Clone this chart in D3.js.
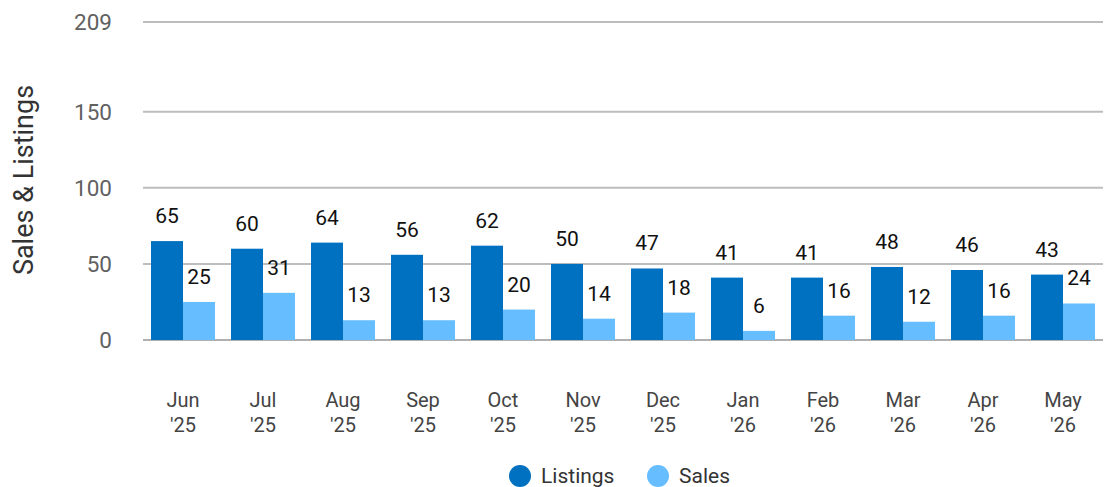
<!DOCTYPE html>
<html>
<head>
<meta charset="utf-8">
<script src="https://cdn.jsdelivr.net/npm/d3@7"></script>
<style>
  body { margin: 0; background: #fff; }
  svg text { font-family: Roboto, sans-serif; }
</style>
</head>
<body>
<div id="graph"></div>
<script>
// The data...
var months   = [ 'Jun', 'Jul', 'Aug', 'Sep', 'Oct', 'Nov', 'Dec', 'Jan', 'Feb', 'Mar', 'Apr', 'May' ];
var years    = [ "'25", "'25", "'25", "'25", "'25", "'25", "'25", "'26", "'26", "'26", "'26", "'26" ];
var listings = [ 65, 60, 64, 56, 62, 50, 47, 41, 41, 48, 46, 43 ];
var sales    = [ 25, 31, 13, 13, 20, 14, 18, 6, 16, 12, 16, 24 ];
var yTicks   = [ 0, 50, 100, 150, 209 ];
var seriesNames = [ 'Listings', 'Sales' ];

var colours = [ '#0070c0', '#66bdff' ];

var width = 1112, height = 487;
var margin = { top: 22, right: 9, bottom: 147, left: 143 };

var svg = d3.select ('#graph').append ('svg')
            .attr ('width', width)
            .attr ('height', height);

var xScale = d3.scaleBand ()
               .domain (d3.range (months.length))
               .range ([ margin.left, width - margin.right ])
               .paddingInner (0.2)
               .paddingOuter (0.1);

var subScale = d3.scaleBand ()
                 .domain ([ 0, 1 ])
                 .range ([ 0, xScale.bandwidth () ]);

var yScale = d3.scaleLinear ()
               .domain ([ 0, 209 ])
               .range ([ height - margin.bottom, margin.top ]);

// gridlines
svg.append ('g')
   .selectAll ('line')
   .data (yTicks)
   .enter ()
   .append ('line')
   .attr ('x1', margin.left)
   .attr ('x2', width - margin.right)
   .attr ('y1', function (d) { return yScale (d); })
   .attr ('y2', function (d) { return yScale (d); })
   .attr ('stroke', function (d) { return d == 0 ? '#b0b0b0' : '#bdbdbd'; })
   .attr ('stroke-width', 2);

// y axis tick labels
svg.append ('g')
   .selectAll ('text')
   .data (yTicks)
   .enter ()
   .append ('text')
   .attr ('x', 112)
   .attr ('y', function (d) { return yScale (d) + 8; })
   .attr ('text-anchor', 'end')
   .attr ('font-size', '22.5px')
   .attr ('fill', '#616161')
   .text (function (d) { return d; });

// y axis title
svg.append ('text')
   .attr ('transform', 'translate(33,180) rotate(-90)')
   .attr ('text-anchor', 'middle')
   .attr ('font-size', '27px')
   .attr ('fill', '#333')
   .text ('Sales & Listings');

// bars
var groups = svg.append ('g')
                .selectAll ('g')
                .data (months)
                .enter ()
                .append ('g')
                .attr ('transform', function (d, i) { return 'translate(' + xScale (i) + ',0)'; });

var seriesData = [ listings, sales ];

for (var s = 0; s < 2; s++)
{
    (function (s)
    {
        groups.append ('rect')
              .attr ('x', subScale (s))
              .attr ('y', function (d, i) { return yScale (seriesData[s][i]); })
              .attr ('width', subScale.bandwidth ())
              .attr ('height', function (d, i) { return yScale (0) - yScale (seriesData[s][i]); })
              .attr ('fill', colours[s]);

        groups.append ('text')
              .attr ('x', subScale (s) + subScale.bandwidth () / 2)
              .attr ('y', function (d, i) { return yScale (seriesData[s][i]) - 18; })
              .attr ('text-anchor', 'middle')
              .attr ('font-size', '21px')
              .attr ('fill', '#111')
              .text (function (d, i) { return seriesData[s][i]; });
    }) (s);
}

// x labels (two lines)
var xl = groups.append ('text')
               .attr ('text-anchor', 'middle')
               .attr ('font-size', '20px')
               .attr ('fill', '#444');

xl.append ('tspan')
  .attr ('x', xScale.bandwidth () / 2)
  .attr ('y', 407)
  .text (function (d) { return d; });

xl.append ('tspan')
  .attr ('x', xScale.bandwidth () / 2)
  .attr ('y', 432)
  .text (function (d, i) { return years[i]; });

// legend
var legendX = [ 520, 658 ];
var legend = svg.append ('g')
                .selectAll ('g')
                .data (seriesNames)
                .enter ()
                .append ('g')
                .attr ('transform', function (d, i) { return 'translate(' + legendX[i] + ',476)'; });

legend.append ('circle')
      .attr ('r', 11)
      .attr ('fill', function (d, i) { return colours[i]; });

legend.append ('text')
      .attr ('x', 21)
      .attr ('y', 7)
      .attr ('font-size', '21px')
      .attr ('fill', '#333')
      .text (function (d) { return d; });
</script>
</body>
</html>
